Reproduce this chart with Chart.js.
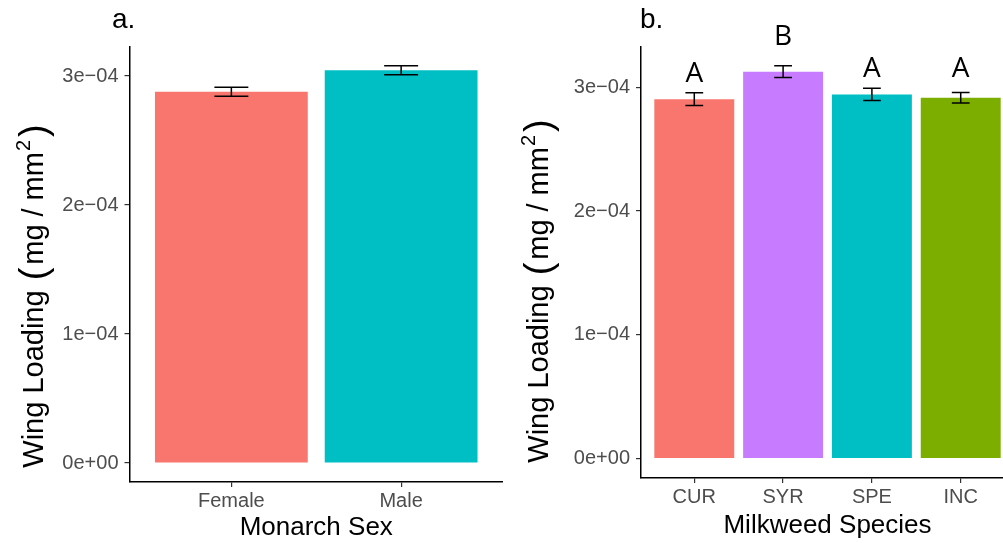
<!DOCTYPE html>
<html>
<head>
<meta charset="utf-8">
<script src="https://cdn.jsdelivr.net/npm/chart.js@4.4.0/dist/chart.umd.min.js"></script>
<style>
  html, body { margin: 0; padding: 0; background: #fff; overflow: hidden; }
  #wrap { position: relative; width: 1003px; height: 543px; overflow: hidden; }
  #chartSex { position: absolute; left: 0; top: 0; }
  #chartSpecies { position: absolute; left: 500px; top: 0; }
</style>
</head>
<body>
<div id="wrap">
  <canvas id="chartSex" width="503" height="543"></canvas>
  <canvas id="chartSpecies" width="514" height="543"></canvas>
</div>
<script>
// panel a: wing loading by monarch sex
const sexLabels = ['Female', 'Male'];
const sexMeans = [2.878e-4, 3.045e-4];
const sexErrors = [3.5e-6, 3.5e-6];
const sexColors = ['#F8766D', '#00BFC4'];

// panel b: wing loading by milkweed species
const speciesLabels = ['CUR', 'SYR', 'SPE', 'INC'];
const speciesMeans = [2.904e-4, 3.126e-4, 2.942e-4, 2.915e-4];
const speciesErrors = [5.2e-6, 4.8e-6, 5.0e-6, 4.2e-6];
const speciesLetters = ['A', 'B', 'A', 'A'];
const speciesLetterY = [3.125e-4, 3.42e-4, 3.165e-4, 3.165e-4];
const speciesColors = ['#F8766D', '#C77CFF', '#00BFC4', '#7CAE00'];

// shared y axis ticks
const yTickValues = [0, 1e-4, 2e-4, 3e-4];
const yTickLabels = ['0e+00', '1e\u221204', '2e\u221204', '3e\u221204'];

const FONT = '"Liberation Sans", Arial, Helvetica, sans-serif';

// mean +/- se whiskers with caps 0.2 units wide
function errorBarsPlugin(means, errors) {
  return {
    id: 'errorBars',
    afterDatasetsDraw(chart) {
      const ctx = chart.ctx;
      const x = chart.scales.x;
      const y = chart.scales.y;
      ctx.save();
      ctx.strokeStyle = '#000';
      ctx.lineWidth = 1.5;
      means.forEach((m, i) => {
        const xl = x.getPixelForValue(i - 0.1);
        const xr = x.getPixelForValue(i + 0.1);
        const xc = x.getPixelForValue(i);
        const yt = y.getPixelForValue(m + errors[i]);
        const yb = y.getPixelForValue(m - errors[i]);
        ctx.beginPath();
        ctx.moveTo(xl, yt); ctx.lineTo(xr, yt);
        ctx.moveTo(xc, yt); ctx.lineTo(xc, yb);
        ctx.moveTo(xl, yb); ctx.lineTo(xr, yb);
        ctx.stroke();
      });
      ctx.restore();
    }
  };
}

// rotated y title with superscript, plus the panel tag
function decorPlugin(tag, tagX, titleX, titleY) {
  return {
    id: 'decor',
    afterDraw(chart) {
      const ctx = chart.ctx;
      ctx.save();
      ctx.fillStyle = '#000';
      ctx.textBaseline = 'alphabetic';
      ctx.textAlign = 'left';
      ctx.font = '28px ' + FONT;
      ctx.fillText(tag, tagX, 28);

      // gap = extra space after the piece, plotmath style
      const parts = [
        { t: 'Wing Loading', size: 29, dy: 0, gap: 10 },
        { t: '(', size: 38, dy: 3, gap: 3 },
        { t: 'mg', size: 29, dy: 0, gap: 8 },
        { t: '/', size: 29, dy: 0, gap: 8 },
        { t: 'mm', size: 29, dy: 0, gap: 1 },
        { t: '2', size: 20, dy: -13, gap: 3 },
        { t: ')', size: 38, dy: 3, gap: 0 }
      ];
      let total = 0;
      parts.forEach((p) => {
        ctx.font = p.size + 'px ' + FONT;
        p.w = ctx.measureText(p.t).width;
        total += p.w + p.gap;
      });
      ctx.translate(titleX, titleY);
      ctx.rotate(-Math.PI / 2);
      let pos = -total / 2;
      parts.forEach((p) => {
        ctx.font = p.size + 'px ' + FONT;
        ctx.fillText(p.t, pos, p.dy);
        pos += p.w + p.gap;
      });
      ctx.restore();
    }
  };
}

// significance letters above the species bars
const lettersPlugin = {
  id: 'letters',
  afterDraw(chart) {
    const ctx = chart.ctx;
    const x = chart.scales.x;
    const y = chart.scales.y;
    ctx.save();
    ctx.fillStyle = '#000';
    ctx.font = '28px "Open Sans", ' + FONT;
    ctx.textAlign = 'center';
    ctx.textBaseline = 'alphabetic';
    speciesLetters.forEach((l, i) => {
      ctx.fillText(l, x.getPixelForValue(i), y.getPixelForValue(speciesLetterY[i]) + 10);
    });
    ctx.restore();
  }
};

function criarGrafico(id, cfg) {
  const tickFont = { family: FONT, size: 20 };
  const gridOpts = {
    drawOnChartArea: false,
    drawTicks: true,
    tickLength: 5,
    tickColor: '#333333',
    lineWidth: 1.2,
    offset: false
  };
  const borderOpts = { display: true, color: '#000', width: 1.5 };
  return new Chart(document.getElementById(id), {
    type: 'bar',
    data: {
      datasets: [{
        data: cfg.means.map((m, i) => ({ x: i, y: m })),
        backgroundColor: cfg.colors,
        borderWidth: 0,
        barPercentage: 0.9,
        categoryPercentage: 1.0
      }]
    },
    options: {
      responsive: false,
      animation: false,
      layout: { padding: { top: 47, left: 0, right: 0, bottom: 0 } },
      plugins: { legend: { display: false }, tooltip: { enabled: false } },
      scales: {
        x: {
          type: 'linear',
          min: -0.6,
          max: cfg.xMax,
          offset: false,
          afterBuildTicks: (s) => { s.ticks = cfg.labels.map((l, i) => ({ value: i })); },
          afterFit: (s) => { s.height = cfg.xAxisHeight; },
          ticks: {
            callback: (v) => cfg.labels[v],
            color: '#4D4D4D',
            font: tickFont,
            padding: 2,
            maxRotation: 0,
            autoSkip: false
          },
          grid: gridOpts,
          border: borderOpts,
          title: {
            display: true,
            text: cfg.xTitle,
            color: '#000',
            font: { family: FONT, size: 26 },
            padding: { top: 0, bottom: cfg.xTitlePad }
          }
        },
        y: {
          type: 'linear',
          min: cfg.yMin,
          max: cfg.yMax,
          afterBuildTicks: (s) => { s.ticks = yTickValues.map((v) => ({ value: v })); },
          afterFit: (s) => { s.width = cfg.yAxisWidth; },
          ticks: {
            callback: (v, i) => yTickLabels[i],
            color: '#4D4D4D',
            font: tickFont,
            padding: 6
          },
          grid: gridOpts,
          border: borderOpts
        }
      }
    },
    plugins: cfg.plugins
  });
}

criarGrafico('chartSex', {
  labels: sexLabels,
  means: sexMeans,
  colors: sexColors,
  xMax: 1.6,
  yMin: -1.473e-5,
  yMax: 3.2248e-4,
  yAxisWidth: 129.5,
  xAxisHeight: 61,
  xTitle: 'Monarch Sex',
  xTitlePad: 0,
  plugins: [errorBarsPlugin(sexMeans, sexErrors), decorPlugin('a.', 112, 43, 296)]
});

criarGrafico('chartSpecies', {
  labels: speciesLabels,
  means: speciesMeans,
  colors: speciesColors,
  xMax: 3.6,
  yMin: -1.558e-5,
  yMax: 3.325e-4,
  yAxisWidth: 141,
  xAxisHeight: 65,
  xTitle: 'Milkweed Species',
  xTitlePad: 2,
  plugins: [errorBarsPlugin(speciesMeans, speciesErrors), lettersPlugin, decorPlugin('b.', 140, 48, 291)]
});
</script>
</body>
</html>
